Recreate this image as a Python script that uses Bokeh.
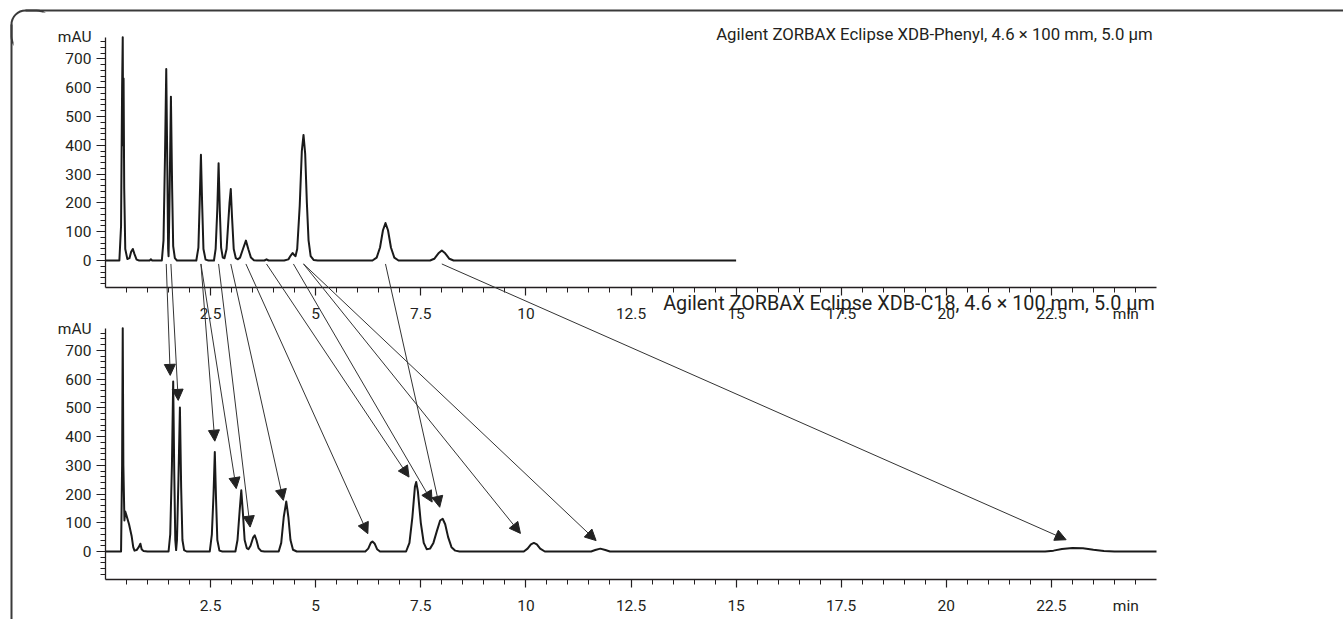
from bokeh.plotting import figure
from bokeh.models import (Range1d, LinearAxis, FixedTicker, Label, Arrow, NormalHead,
                          ColumnDataSource, BoxAnnotation)
from bokeh.embed import file_html
from bokeh.resources import INLINE

# ---------------- data ----------------
TOP_TITLE = "Agilent ZORBAX Eclipse XDB-Phenyl, 4.6 \u00d7 100 mm, 5.0 \u00b5m"
BOT_TITLE = "Agilent ZORBAX Eclipse XDB-C18, 4.6 \u00d7 100 mm, 5.0 \u00b5m"
Y_UNIT = "mAU"
X_UNIT = "min"

TOP_TIME = [0.00, 0.33, 0.37, 0.395, 0.41, 0.42, 0.43, 0.445, 0.47, 0.52, 0.57, 0.61, 0.65, 0.69, 0.74, 0.80,
            1.05, 1.08, 1.11,
            1.34, 1.38, 1.415, 1.445, 1.47, 1.49, 1.50, 1.52, 1.556, 1.585, 1.61, 1.65, 1.70,
            2.16, 2.21, 2.24, 2.27, 2.30, 2.33, 2.38, 2.45,
            2.58, 2.62, 2.66, 2.69, 2.72, 2.75, 2.79, 2.83, 2.88, 2.95, 2.98, 3.01, 3.05, 3.10, 3.15,
            3.20, 3.27, 3.34, 3.40, 3.46, 3.53, 3.60,
            3.78, 3.83, 3.88,
            4.25, 4.35, 4.41, 4.45, 4.49, 4.52, 4.56, 4.62, 4.67, 4.71, 4.75, 4.79, 4.83, 4.88, 4.95, 5.05,
            6.35, 6.45, 6.53, 6.60, 6.66, 6.72, 6.79, 6.87, 6.97,
            7.72, 7.82, 7.92, 8.00, 8.08, 8.18, 8.28,
            15.0]
TOP_MAU = [0, 0, 120, 600, 775, 400, 632, 250, 40, 5, 8, 30, 40, 22, 3, 0,
           0, 4, 0,
           0, 70, 360, 665, 330, 40, 15, 180, 569, 250, 50, 8, 0,
           0, 45, 200, 367, 190, 40, 3, 0,
           0, 40, 180, 338, 170, 45, 10, 8, 40, 200, 248, 150, 40, 8, 4,
           10, 40, 69, 38, 10, 1, 0,
           0, 4, 0,
           0, 4, 18, 26, 19, 15, 40, 190, 380, 436, 370, 200, 70, 15, 2, 0,
           0, 10, 45, 105, 130, 105, 45, 10, 0,
           0, 6, 25, 35, 25, 6, 0,
           0]

BOT_TIME = [0.00, 0.37, 0.395, 0.41, 0.425, 0.45, 0.47, 0.50, 0.56, 0.62, 0.66, 0.69, 0.74, 0.79, 0.83, 0.86, 0.90, 1.00,
            1.50, 1.54, 1.58, 1.61, 1.635, 1.66, 1.68, 1.70, 1.735, 1.77, 1.80, 1.83, 1.87, 1.93,
            2.48, 2.53, 2.57, 2.60, 2.63, 2.66, 2.71, 2.78,
            3.09, 3.14, 3.19, 3.23, 3.27, 3.31, 3.36, 3.40,
            3.45, 3.51, 3.55, 3.59, 3.64, 3.70, 3.78,
            4.12, 4.18, 4.24, 4.30, 4.35, 4.40, 4.46, 4.55,
            6.18, 6.25, 6.31, 6.35, 6.40, 6.46, 6.53,
            7.15, 7.23, 7.30, 7.36, 7.39, 7.43, 7.50, 7.57, 7.64, 7.72,
            7.80, 7.88, 7.96, 8.02, 8.08, 8.15, 8.23, 8.32, 8.42,
            9.95, 10.04, 10.12, 10.19, 10.26, 10.34, 10.45,
            11.55, 11.65, 11.77, 11.89, 12.00,
            22.35, 22.55, 22.75, 23.00, 23.25, 23.50, 23.75, 24.00, 25.00]
BOT_MAU = [0, 0, 300, 777, 300, 108, 139, 125, 95, 55, 15, 3, 5, 15, 27, 8, 2, 0,
           0, 60, 300, 592, 280, 40, 5, 40, 250, 501, 220, 40, 5, 0,
           0, 60, 200, 346, 180, 40, 3, 0,
           0, 40, 140, 213, 130, 40, 12, 8,
           20, 48, 56, 40, 12, 2, 0,
           0, 30, 120, 174, 120, 40, 6, 0,
           0, 10, 30, 35, 28, 8, 0,
           0, 30, 120, 225, 242, 210, 100, 30, 8, 10,
           30, 70, 108, 114, 95, 50, 15, 3, 0,
           0, 10, 25, 30, 25, 10, 0,
           0, 5, 10, 5, 0,
           0, 3, 9, 12, 11, 6, 2, 0, 0]

# peak correspondence arrows: top-peak time -> arrow tip (time, mAU) in lower run
ARROW_FROM_TIME = [1.445, 1.556, 2.27, 2.27, 2.69, 2.98, 3.34, 3.83, 4.47, 4.71, 4.71, 6.66, 8.00]
ARROW_TO_TIME = [1.54, 1.73, 2.60, 3.11, 3.44, 4.23, 6.24, 7.22, 7.77, 9.87, 11.67, 7.95, 22.85]
ARROW_TO_MAU = [613, 526, 384, 219, 85, 178, 62, 259, 172, 63, 38, 154, 41]
ARROW_START_MAU = -12  # just under the upper baseline

X_END = 25
X_MAJOR = [2.5, 5, 7.5, 10, 12.5, 15, 17.5, 20, 22.5]
X_MINOR = [0.5 * i for i in range(1, 50)]
Y_MAJOR = [0, 100, 200, 300, 400, 500, 600, 700]
Y_MINOR = list(range(-80, 780, 20))

# ---------------- layout (canvas pixels) ----------------
FONT = "Roboto"
INK = "#231f20"
FRAME_INK = "#3a3a3a"
W, H = 1343, 619
PLOT_L, PLOT_R = 105, 1156                 # px of x = 0 and x = 25
BOT_ZERO_PX, BOT_PPU, BOT_AXIS_PX = 551, 0.2873, 579
TOP_ZERO_PX, TOP_PPU, TOP_AXIS_PX = 260, 0.2880, 287

ppm = (PLOT_R - PLOT_L) / X_END
x_range = Range1d(-PLOT_L / ppm, X_END + (W - PLOT_R) / ppm)
bot_range = Range1d(-(H - BOT_ZERO_PX) / BOT_PPU, BOT_ZERO_PX / BOT_PPU)
top_range = Range1d(-(H - TOP_ZERO_PX) / TOP_PPU, TOP_ZERO_PX / TOP_PPU)
BOT_AXIS_Y = -(BOT_AXIS_PX - BOT_ZERO_PX) / BOT_PPU
TOP_AXIS_Y = -(TOP_AXIS_PX - TOP_ZERO_PX) / TOP_PPU
TOP_Y_TOP = 774
BOT_Y_TOP = 776


def top_to_bot(v):
    frac = (v - top_range.start) / (top_range.end - top_range.start)
    return bot_range.start + frac * (bot_range.end - bot_range.start)


p = figure(width=W, height=H, x_range=x_range, y_range=bot_range,
           output_backend="svg", toolbar_location=None,
           x_axis_type=None, y_axis_type=None,
           min_border_left=0, min_border_right=0, min_border_top=0, min_border_bottom=0)
p.extra_y_ranges = {"top": top_range}
p.outline_line_color = None
p.background_fill_color = "white"
p.border_fill_color = "white"


def style_axis(ax, major_out, minor_out, standoff):
    ax.axis_line_color = INK
    ax.axis_line_width = 1.3
    ax.major_tick_line_color = INK
    ax.minor_tick_line_color = INK
    ax.major_tick_line_width = 1.2
    ax.minor_tick_line_width = 1.0
    ax.major_tick_in = 0
    ax.minor_tick_in = 0
    ax.major_tick_out = major_out
    ax.minor_tick_out = minor_out
    ax.major_label_standoff = standoff
    ax.major_label_text_font = FONT
    ax.major_label_text_font_size = "15.5px"
    ax.major_label_text_color = INK


x_overrides = {v: f"{v:g}" for v in X_MAJOR}

xb = LinearAxis(ticker=FixedTicker(ticks=X_MAJOR, minor_ticks=X_MINOR), bounds=(0, X_END),
                fixed_location=BOT_AXIS_Y, major_label_overrides=x_overrides)
style_axis(xb, 8, 5, 12)
p.add_layout(xb, "below")

xt = LinearAxis(ticker=FixedTicker(ticks=X_MAJOR, minor_ticks=X_MINOR), y_range_name="top",
                bounds=(0, X_END), fixed_location=TOP_AXIS_Y, major_label_overrides=x_overrides)
style_axis(xt, 8, 5, 12)
p.add_layout(xt, "below")

yb = LinearAxis(ticker=FixedTicker(ticks=Y_MAJOR, minor_ticks=Y_MINOR),
                bounds=(BOT_AXIS_Y, BOT_Y_TOP), fixed_location=0)
style_axis(yb, 9, 5, 5)
p.add_layout(yb, "left")

yt = LinearAxis(ticker=FixedTicker(ticks=Y_MAJOR, minor_ticks=Y_MINOR), y_range_name="top",
                bounds=(TOP_AXIS_Y, TOP_Y_TOP), fixed_location=0)
style_axis(yt, 9, 5, 5)
p.add_layout(yt, "left")

# chromatograms
p.line(TOP_TIME, TOP_MAU, y_range_name="top", line_width=2, line_color="#1a1a1a", line_join="round")
p.line(BOT_TIME, BOT_MAU, line_width=2, line_color="#1a1a1a", line_join="round")

# arrows linking peaks
arrow_src = ColumnDataSource(dict(
    x0=ARROW_FROM_TIME,
    y0=[top_to_bot(ARROW_START_MAU)] * len(ARROW_FROM_TIME),
    x1=ARROW_TO_TIME,
    y1=ARROW_TO_MAU,
))
p.add_layout(Arrow(end=NormalHead(size=11, fill_color="#222222", line_color="#222222", line_width=1),
                   x_start="x0", y_start="y0", x_end="x1", y_end="y1", source=arrow_src,
                   line_color="#333333", line_width=1))

# texts
tick_lab = dict(text_font=FONT, text_font_size="15.5px", text_color=INK)
p.add_layout(Label(x=24.91, y=788, y_range_name="top", text=TOP_TITLE,
                   text_align="right", text_baseline="middle",
                   text_font=FONT, text_font_size="16.75px", text_color=INK))
p.add_layout(Label(x=24.96, y=863, text=BOT_TITLE,
                   text_align="right", text_baseline="middle",
                   text_font=FONT, text_font_size="19.8px", text_color=INK))
p.add_layout(Label(x=0, y=776, y_range_name="top", x_offset=-14, text=Y_UNIT,
                   text_align="right", text_baseline="middle", **tick_lab))
p.add_layout(Label(x=0, y=776, x_offset=-14, text=Y_UNIT,
                   text_align="right", text_baseline="middle", **tick_lab))
p.add_layout(Label(x=24.27, y=TOP_AXIS_Y, y_range_name="top", y_offset=-26, text=X_UNIT,
                   text_align="center", text_baseline="middle", **tick_lab))
p.add_layout(Label(x=24.27, y=BOT_AXIS_Y, y_offset=-26, text=X_UNIT,
                   text_align="center", text_baseline="middle", **tick_lab))

# outer frame with rounded top-left corner: top edge, left edge, corner arc
cu = dict(left_units="canvas", right_units="canvas", top_units="canvas", bottom_units="canvas")
p.add_layout(BoxAnnotation(left=25, right=W + 40, top=9, bottom=11, **cu,
                           fill_color=FRAME_INK, fill_alpha=1.0, line_color=None))
p.add_layout(BoxAnnotation(left=10, right=12, top=24, bottom=H + 40, **cu,
                           fill_color=FRAME_INK, fill_alpha=1.0, line_color=None))
p.add_layout(BoxAnnotation(left=11, top=10, right=50, bottom=50, **cu,
                           fill_color=None, fill_alpha=0, line_color=FRAME_INK,
                           line_alpha=1.0, line_width=2, border_radius=14))
# hide the unwanted right/bottom parts of the corner box
p.add_layout(BoxAnnotation(left=26, right=56, top=12, bottom=56, **cu,
                           fill_color="white", fill_alpha=1.0, line_color=None))
p.add_layout(BoxAnnotation(left=13, right=56, top=25, bottom=56, **cu,
                           fill_color="white", fill_alpha=1.0, line_color=None))

open("out.html", "w").write(file_html(p, INLINE))
